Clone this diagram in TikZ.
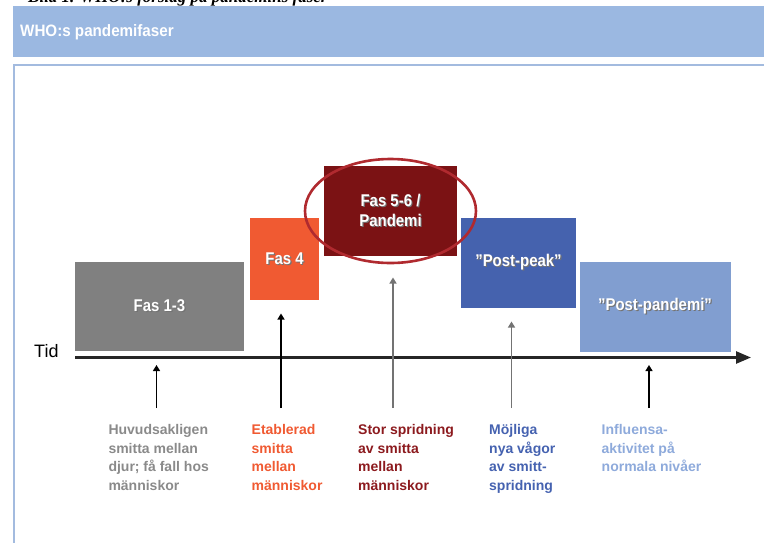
\documentclass[tikz,border=0pt]{standalone}
\usepackage{fontspec}
\setmainfont{Liberation Sans}
\newfontfamily\capfont{Liberation Serif}
\newfontfamily\boxfont[FakeStretch=0.88]{Liberation Sans}
\newfontfamily\headfont[FakeStretch=0.92]{Liberation Sans}
\usetikzlibrary{arrows.meta}

\definecolor{bandblue}{HTML}{9BB8E1}
\definecolor{frameblue}{HTML}{A3BBDF}
\definecolor{phasegray}{HTML}{808080}
\definecolor{phaseorange}{HTML}{F05A32}
\definecolor{phasered}{HTML}{7B1214}
\definecolor{phaseblue}{HTML}{4562AE}
\definecolor{phaselight}{HTML}{819ED0}
\definecolor{ringred}{HTML}{B02A2F}
\definecolor{txtgray}{HTML}{8A8A8A}
\definecolor{txtorange}{HTML}{F05A32}
\definecolor{txtred}{HTML}{8C1A1E}
\definecolor{txtblue}{HTML}{4562B0}
\definecolor{txtlight}{HTML}{8EAADB}

% white label with a soft dark drop shadow
\newcommand\shlbl[1]{\leavevmode\rlap{\kern1.2pt\raisebox{-1.2pt}{\color{black!55}#1}}#1}

\tikzset{
  phase/.style={draw=none, inner sep=0pt, text=white,
    font=\boxfont\bfseries\fontsize{17}{20}\selectfont, align=center},
  note/.style={inner sep=0pt, anchor=north west, align=left,
    font=\bfseries\fontsize{14}{18.6}\selectfont},
  uparrow/.style={line width=1.3pt, -{Triangle[length=6pt,width=7pt]}},
  timeaxis/.style={line width=2.6pt, draw=black!85,
    -{Triangle[length=15pt,width=12pt]}},
}

\begin{document}
\begin{tikzpicture}[x=1pt,y=-1pt]
\useasboundingbox (0,0) rectangle (764,542);
\clip (0,0) rectangle (764,542);

% caption line above the panel (runs off the top edge)
\node[anchor=base west, inner sep=0pt, font=\capfont\itshape\bfseries\fontsize{17}{20}\selectfont]
  (caption) at (28,2.5) {Bild 1. WHO:s förslag på pandemins faser};

% header band and panel frame
\fill[bandblue] (13,6) rectangle (780,57);
\node[anchor=west, inner sep=0pt, text=white, font=\headfont\bfseries\fontsize{16.5}{20}\selectfont]
  (title) at (20,32) {WHO:s pandemifaser};
\draw[frameblue, line width=2pt] (14,65) rectangle (790,600);

% phase blocks
\node[phase, fill=phasegray, minimum width=169pt, minimum height=89pt]
  (f13) at (159.5,306.5) {\shlbl{Fas 1-3}};
\node[phase, fill=phaseorange, minimum width=69pt, minimum height=82pt]
  (f4) at (284.5,259) {\shlbl{Fas 4}};
\node[phase, fill=phasered, minimum width=133pt, minimum height=90pt]
  (f56) at (390.5,211) {\shlbl{Fas 5-6 /}\\\shlbl{Pandemi}};
\node[phase, fill=phaseblue, minimum width=115pt, minimum height=90pt]
  (peak) at (518.5,262.5) {\shlbl{”Post-peak”}};
\node[phase, fill=phaselight, minimum width=151pt, minimum height=90pt]
  (post) at (655,306.5) {\shlbl{”Post-pandemi”}};

% highlight ring around the pandemic phase
\draw[ringred, line width=2.6pt] (f56.center) ellipse [x radius=85.5pt, y radius=52pt];

% time axis
\coordinate (t0) at (75,357.5);
\coordinate (t1) at (751,357.5);
\draw[timeaxis] (t0) -- (t1);
\node[anchor=base west, inner sep=0pt, font=\fontsize{18}{20}\selectfont]
  (tid) at (34,357) {Tid};

% pointer arrows from the descriptions
\coordinate (b1) at (156.5,408); \coordinate (p1) at (156.5,365);
\coordinate (b2) at (281,408);   \coordinate (p2) at (281,313.5);
\coordinate (b3) at (393,408);   \coordinate (p3) at (393,277.5);
\coordinate (b4) at (511.5,408); \coordinate (p4) at (511.5,321.5);
\coordinate (b5) at (649,408);   \coordinate (p5) at (649,365);
\draw[uparrow] (b1) -- (p1);
\draw[uparrow] (b2) -- (p2);
\draw[uparrow, black!55] (b3) -- (p3);
\draw[uparrow, black!55] (b4) -- (p4);
\draw[uparrow] (b5) -- (p5);

% descriptions
\node[note, text=txtgray] (d1) at (108.3,424.3)
  {Huvudsakligen\\smitta mellan\\djur; få fall hos\\människor};
\node[note, text=txtorange] (d2) at (251.5,424.3)
  {Etablerad\\smitta\\mellan\\människor};
\node[note, text=txtred] (d3) at (358,424.3)
  {Stor spridning\\av smitta\\mellan\\människor};
\node[note, text=txtblue] (d4) at (489,424.3)
  {Möjliga\\nya vågor\\av smitt-\\spridning};
\node[note, text=txtlight] (d5) at (601.5,424.3)
  {Influensa-\\aktivitet på\\normala nivåer};
\end{tikzpicture}
\end{document}
